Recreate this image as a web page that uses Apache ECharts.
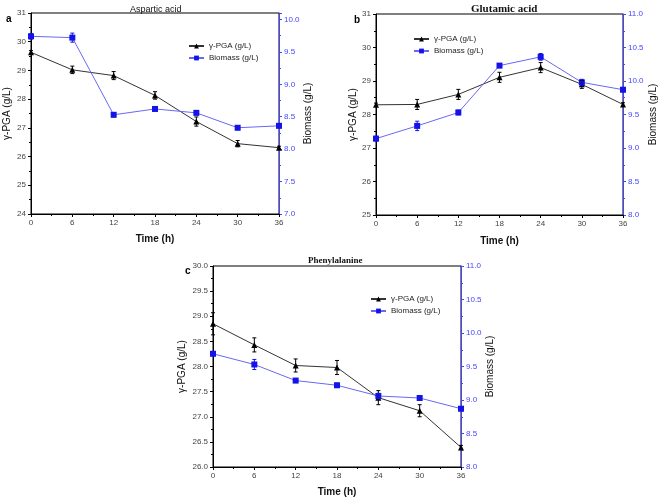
<!DOCTYPE html>
<html>
<head>
<meta charset="utf-8">
<script src="https://cdn.jsdelivr.net/npm/echarts@6/dist/echarts.min.js"></script>
<style>
  html, body { margin: 0; padding: 0; background: #fff; }
  #main { width: 660px; height: 498px; }
</style>
</head>
<body>
<div id="main"></div>
<script>
var hours = [0, 6, 12, 18, 24, 30, 36];

// a - Aspartic acid
var pgaA = [29.63, 29.02, 28.82, 28.13, 27.22, 26.45, 26.31];
var pgaAErr = [0.06, 0.13, 0.14, 0.13, 0.16, 0.11, 0.05];
var bioA = [9.74, 9.72, 8.53, 8.62, 8.56, 8.33, 8.36];
var bioAErr = [0.04, 0.07, 0.03, 0.03, 0.03, 0.03, 0.03];

// b - Glutamic acid
var pgaB = [28.29, 28.3, 28.6, 29.11, 29.4, 28.9, 28.3];
var pgaBErr = [0.05, 0.15, 0.15, 0.15, 0.15, 0.12, 0.05];
var bioB = [9.14, 9.33, 9.53, 10.23, 10.36, 9.98, 9.87];
var bioBErr = [0.035, 0.07, 0.035, 0.03, 0.05, 0.045, 0.03];

// c - Phenylalanine
var pgaC = [28.85, 28.43, 28.02, 27.98, 27.38, 27.12, 26.39];
var pgaCErr = [0.22, 0.14, 0.13, 0.14, 0.14, 0.12, 0.04];
var bioC = [9.69, 9.53, 9.29, 9.22, 9.06, 9.03, 8.87];
var bioCErr = [0.03, 0.075, 0.03, 0.03, 0.04, 0.03, 0.03];

var pgaName = 'γ-PGA (g/L)';
var bioName = 'Biomass (g/L)';
var sans = 'Liberation Sans, Arial, sans-serif';
var serif = 'Liberation Serif, Times New Roman, serif';
var blue = '#4545ff';

var myChart = echarts.init(document.getElementById('main'));

function pairs(vals) {
    return hours.map(function (h, i) { return [h, vals[i]]; });
}
function errData(vals, errs) {
    return hours.map(function (h, i) { return [h, vals[i] - errs[i], vals[i] + errs[i]]; });
}
function errRender(color) {
    return function (params, api) {
        var x = api.value(0);
        var lo = api.coord([x, api.value(1)]);
        var hi = api.coord([x, api.value(2)]);
        var w = 2;
        var st = { stroke: color, lineWidth: 1 };
        return {
            type: 'group',
            children: [
                { type: 'line', shape: { x1: lo[0], y1: lo[1], x2: hi[0], y2: hi[1] }, style: st },
                { type: 'line', shape: { x1: lo[0] - w, y1: lo[1], x2: lo[0] + w, y2: lo[1] }, style: st },
                { type: 'line', shape: { x1: hi[0] - w, y1: hi[1], x2: hi[0] + w, y2: hi[1] }, style: st }
            ]
        };
    };
}

function xAx(gi, gap) {
    return {
        type: 'value', gridIndex: gi, min: 0, max: 36, interval: 6,
        name: 'Time (h)', nameLocation: 'middle', nameGap: gap,
        nameTextStyle: { fontFamily: sans, fontWeight: 'bold', fontSize: 10, color: '#111' },
        axisLine: { lineStyle: { color: '#000' } },
        axisTick: { length: 3, lineStyle: { color: '#000' } },
        minorTick: { show: true, splitNumber: 2, length: 2, lineStyle: { color: '#000' } },
        axisLabel: { fontFamily: sans, fontSize: 8, color: '#444', margin: 5 },
        splitLine: { show: false }
    };
}
function leftAx(gi, min, max, interval, dec, gap) {
    return {
        type: 'value', gridIndex: gi, min: min, max: max, interval: interval, position: 'left',
        name: pgaName, nameLocation: 'middle', nameGap: gap,
        nameTextStyle: { fontFamily: sans, fontSize: 10, color: '#111' },
        axisLine: { show: true, lineStyle: { color: '#000' } },
        axisTick: { show: true, length: 3, lineStyle: { color: '#000' } },
        minorTick: { show: true, splitNumber: 2, length: 2, lineStyle: { color: '#000' } },
        axisLabel: {
            fontFamily: sans, fontSize: 8, color: '#444', margin: 5,
            formatter: function (v) { return v.toFixed(dec); }
        },
        splitLine: { show: false }
    };
}
function rightAx(gi, min, max, gap) {
    return {
        type: 'value', gridIndex: gi, min: min, max: max, interval: 0.5, position: 'right',
        name: bioName, nameLocation: 'middle', nameGap: gap,
        nameTextStyle: { fontFamily: sans, fontSize: 10, color: '#111' },
        axisLine: { show: true, lineStyle: { color: blue } },
        axisTick: { show: true, length: 3, lineStyle: { color: blue } },
        minorTick: { show: true, splitNumber: 2, length: 2, lineStyle: { color: blue } },
        axisLabel: {
            fontFamily: sans, fontSize: 8, color: blue, margin: 5, showMaxLabel: max % 0.5 === 0,
            formatter: function (v) { return v.toFixed(1); }
        },
        splitLine: { show: false }
    };
}

function panelSeries(gi, pga, pgaErr, bio, bioErr) {
    return [
        {
            name: pgaName, type: 'line', xAxisIndex: gi, yAxisIndex: gi * 2,
            data: pairs(pga), symbol: 'triangle', symbolSize: 6,
            lineStyle: { color: '#333', width: 1 },
            itemStyle: { color: '#000' }, z: 3
        },
        {
            type: 'custom', xAxisIndex: gi, yAxisIndex: gi * 2,
            data: errData(pga, pgaErr), encode: { x: 0, y: [1, 2] },
            renderItem: errRender('#000'), z: 4
        },
        {
            name: bioName, type: 'line', xAxisIndex: gi, yAxisIndex: gi * 2 + 1,
            data: pairs(bio), symbol: 'rect', symbolSize: 6,
            lineStyle: { color: '#6868f2', width: 1 },
            itemStyle: { color: '#1414e8' }, z: 3
        },
        {
            type: 'custom', xAxisIndex: gi, yAxisIndex: gi * 2 + 1,
            data: errData(bio, bioErr), encode: { x: 0, y: [1, 2] },
            renderItem: errRender('#1414e8'), z: 4
        }
    ];
}

function legendAt(left, top) {
    return {
        data: [pgaName, bioName], orient: 'vertical', left: left, top: top,
        itemWidth: 15, itemHeight: 6, itemGap: 4,
        textStyle: { fontFamily: sans, fontSize: 8, color: '#222' }
    };
}

var option = {
    animation: false,
    title: [
        { text: 'Aspartic acid', left: 125, top: 0, textStyle: { fontFamily: sans, fontSize: 9, fontWeight: 'normal', color: '#111' } },
        { text: 'Glutamic acid', left: 466, top: -1, textStyle: { fontFamily: serif, fontSize: 11, fontWeight: 'bold', color: '#111' } },
        { text: 'Phenylalanine', left: 303, top: 251, textStyle: { fontFamily: serif, fontSize: 9, fontWeight: 'bold', color: '#111' } },
        { text: 'a', left: 1, top: 9, textStyle: { fontFamily: sans, fontSize: 10, fontWeight: 'bold', color: '#000' } },
        { text: 'b', left: 349, top: 10, textStyle: { fontFamily: sans, fontSize: 10, fontWeight: 'bold', color: '#000' } },
        { text: 'c', left: 180, top: 261, textStyle: { fontFamily: sans, fontSize: 10, fontWeight: 'bold', color: '#000' } }
    ],
    legend: [legendAt(183, 37), legendAt(408, 30), legendAt(365, 290)],
    grid: [
        { left: 31, top: 13, width: 248, height: 201, show: true, borderColor: '#000', borderWidth: 1 },
        { left: 376, top: 14, width: 247, height: 201, show: true, borderColor: '#000', borderWidth: 1 },
        { left: 213, top: 266, width: 248, height: 201, show: true, borderColor: '#000', borderWidth: 1 }
    ],
    xAxis: [xAx(0, 20), xAx(1, 21), xAx(2, 20)],
    yAxis: [
        leftAx(0, 24, 31, 1, 0, 19), rightAx(0, 7, 10.1, 24),
        leftAx(1, 25, 31, 1, 0, 13), rightAx(1, 8, 11, 25),
        leftAx(2, 26, 30, 0.5, 1, 26), rightAx(2, 8, 11, 24)
    ],
    series: [].concat(
        panelSeries(0, pgaA, pgaAErr, bioA, bioAErr),
        panelSeries(1, pgaB, pgaBErr, bioB, bioBErr),
        panelSeries(2, pgaC, pgaCErr, bioC, bioCErr)
    )
};

myChart.setOption(option);
</script>
</body>
</html>
